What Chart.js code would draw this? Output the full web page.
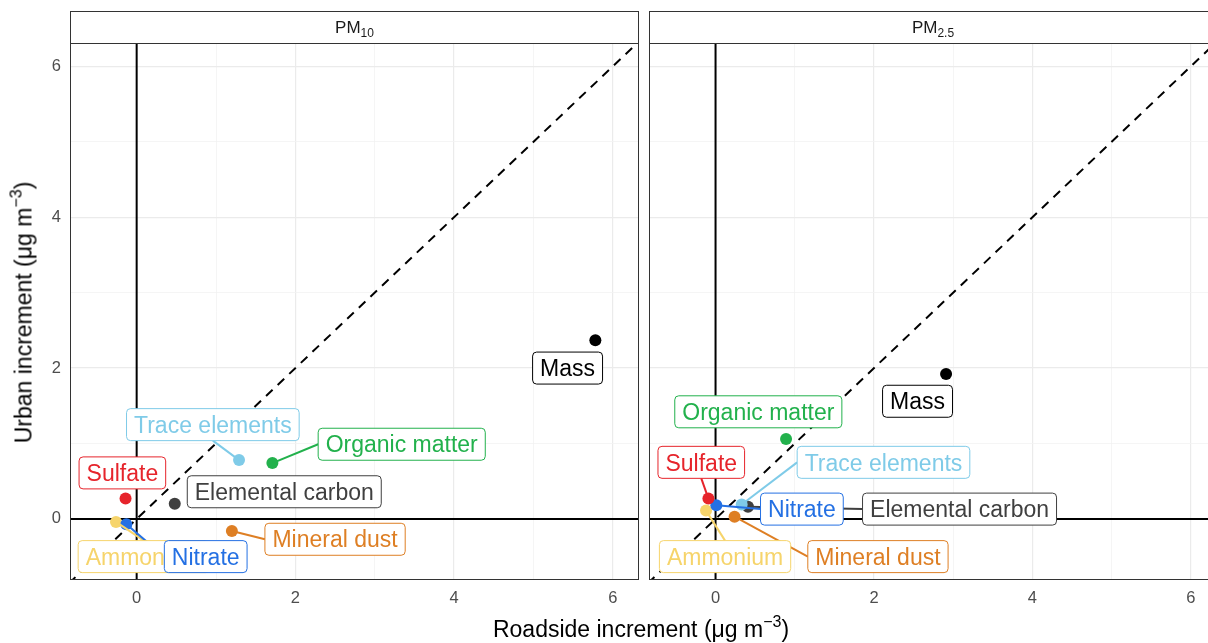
<!DOCTYPE html>
<html>
<head>
<meta charset="utf-8">
<script src="https://cdn.jsdelivr.net/npm/chart.js@4/dist/chart.umd.min.js"></script>
<style>
  html, body { margin: 0; padding: 0; background: #fff; overflow: hidden; }
  body { width: 1208px; height: 643px; position: relative; }
  canvas { position: absolute; top: 0; }
  #pm10 { left: 0; }
  #pm25 { left: 640px; }
  .title {
    position: absolute; font: 23px "Liberation Sans", Arial, sans-serif; color: #000;
    line-height: 23px; white-space: nowrap; text-align: center; width: 600px;
  }
  #xtitle { left: 341px; top: 618px; }
  #ytitle { left: -275px; top: 299.5px; transform: rotate(-90deg); }
  .sup { font-size: 16px; position: relative; top: -10px; }
</style>
</head>
<body>
<canvas id="pm10" width="645" height="643"></canvas>
<canvas id="pm25" width="600" height="643"></canvas>
<div class="title" id="ytitle">Urban increment (μg m<span class="sup">−3</span>)</div>
<div class="title" id="xtitle">Roadside increment (μg m<span class="sup">−3</span>)</div>
<script>
const components = ["Ammonium", "Elemental carbon", "Mass", "Mineral dust", "Nitrate", "Organic matter", "Sulfate", "Trace elements"];
const componentColours = ["#f6d46b", "#3f3f3f", "#000000", "#de7f24", "#2470e3", "#22b14c", "#e6242b", "#7fcbe8"];

const pm10Roadside = [-0.26, 0.48, 5.78, 1.20, -0.13, 1.71, -0.14, 1.29];
const pm10Urban = [-0.04, 0.20, 2.37, -0.16, -0.07, 0.74, 0.27, 0.78];
const pm25Roadside = [-0.12, 0.41, 2.91, 0.24, 0.01, 0.89, -0.09, 0.33];
const pm25Urban = [0.11, 0.16, 1.92, 0.03, 0.18, 1.06, 0.27, 0.19];

// where the repelled labels ended up (data units)
const pm10LabelX = [0.09, 1.86, 5.43, 2.50, 0.87, 3.34, -0.18, 0.96];
const pm10LabelY = [-0.50, 0.36, 2.00, -0.27, -0.50, 0.99, 0.61, 1.25];
const pm25LabelX = [0.12, 3.08, 2.55, 2.05, 1.09, 0.54, -0.18, 2.12];
const pm25LabelY = [-0.50, 0.13, 1.56, -0.50, 0.13, 1.42, 0.75, 0.75];

const tickLabels = [0, 2, 4, 6];
const gridSteps = [0, 1, 2, 3, 4, 5, 6];
const identityLine = [-1, 7];

const FONT = '"Liberation Sans", Arial, sans-serif';
const X_MIN = -0.84, X_MAX = 6.33;
const Y_MIN = -0.81, Y_MAX = 6.31;

const facetPlugin = {
  id: "facet",
  afterDatasetsDraw(chart, args, opts) {
    const { ctx, chartArea: a, scales: { x, y } } = chart;
    ctx.save();
    ctx.font = "23px " + FONT;
    const boxes = components.map((name, i) => {
      const w = ctx.measureText(name).width + 15;
      const cx = x.getPixelForValue(opts.labelX[i]);
      const cy = y.getPixelForValue(opts.labelY[i]);
      return { l: cx - w / 2, r: cx + w / 2, t: cy - 16, b: cy + 16, cx, cy };
    });

    // segments first, like ggrepel
    ctx.lineWidth = 2;
    boxes.forEach((b, i) => {
      const px = x.getPixelForValue(opts.xs[i]);
      const py = y.getPixelForValue(opts.ys[i]);
      const dx = Math.max(b.l - px, 0, px - b.r);
      const dy = Math.max(b.t - py, 0, py - b.b);
      if (Math.hypot(dx, dy) < 14) return;
      const anchors = [[b.l, b.cy], [b.r, b.cy], [b.cx, b.t], [b.cx, b.b]];
      let best = anchors[0];
      anchors.forEach(p => {
        if (Math.hypot(p[0] - px, p[1] - py) < Math.hypot(best[0] - px, best[1] - py)) best = p;
      });
      ctx.strokeStyle = componentColours[i];
      ctx.beginPath();
      ctx.moveTo(px, py);
      ctx.lineTo(best[0], best[1]);
      ctx.stroke();
    });

    ctx.lineWidth = 1;
    ctx.textAlign = "center";
    ctx.textBaseline = "alphabetic";
    boxes.forEach((b, i) => {
      ctx.beginPath();
      ctx.roundRect(b.l, b.t, b.r - b.l, b.b - b.t, 4);
      ctx.fillStyle = "#fff";
      ctx.fill();
      ctx.strokeStyle = componentColours[i];
      ctx.stroke();
      ctx.fillStyle = componentColours[i];
      ctx.fillText(components[i], b.cx, b.cy + 8.2);
    });

    // panel border and strip
    ctx.strokeStyle = "#333";
    ctx.strokeRect(a.left + 0.5, a.top + 0.5, a.right - a.left - 1, a.bottom - a.top - 1);
    ctx.fillStyle = "#fff";
    ctx.fillRect(a.left, 11, a.right - a.left, a.top - 11);
    ctx.strokeRect(a.left + 0.5, 11.5, a.right - a.left - 1, a.top - 11);

    const mid = (a.left + a.right) / 2;
    ctx.font = "17px " + FONT;
    const wMain = ctx.measureText("PM").width;
    ctx.font = "12px " + FONT;
    const wSub = ctx.measureText(opts.stripSub).width;
    const start = mid - (wMain + wSub) / 2;
    ctx.fillStyle = "#1a1a1a";
    ctx.textAlign = "left";
    ctx.font = "17px " + FONT;
    ctx.fillText("PM", start, 33);
    ctx.font = "12px " + FONT;
    ctx.fillText(opts.stripSub, start + wMain, 37);
    ctx.restore();
  }
};

class IncrementPanel {
  constructor(canvas, opts) {
    this.canvas = canvas;
    this.opts = opts;
    this.chart = this.createChart();
  }

  gridOptions() {
    return {
      drawTicks: false,
      color: c => (c.tick && c.tick.value % 2 === 0 ? "#ebebeb" : "#f2f2f2"),
      lineWidth: c => (c.tick && c.tick.value % 2 === 0 ? 1.2 : 0.8)
    };
  }

  createDatasets() {
    const o = this.opts;
    const refLine = {
      showLine: true, pointRadius: 0, borderColor: "#000", borderWidth: 2, clip: 0
    };
    return [
      {
        data: o.xs.map((v, i) => ({ x: v, y: o.ys[i] })),
        pointRadius: 6,
        pointHoverRadius: 6,
        borderWidth: 0,
        backgroundColor: componentColours
      },
      Object.assign({ data: identityLine.map(v => ({ x: v, y: v })), borderDash: [9, 7] }, refLine),
      Object.assign({ data: identityLine.map(v => ({ x: 0, y: v })) }, refLine),
      Object.assign({ data: identityLine.map(v => ({ x: v, y: 0 })) }, refLine)
    ];
  }

  createChart() {
    const o = this.opts;
    const tickFont = { family: FONT, size: 16.5 };
    return new Chart(this.canvas.getContext("2d"), {
      type: "scatter",
      data: { datasets: this.createDatasets() },
      plugins: [facetPlugin],
      options: {
        responsive: false,
        animation: false,
        devicePixelRatio: 1,
        layout: { padding: { top: 43, right: o.padRight, left: 0, bottom: 0 } },
        plugins: {
          legend: { display: false },
          tooltip: { enabled: false },
          facet: o
        },
        scales: {
          x: {
            type: "linear", min: X_MIN, max: X_MAX,
            afterBuildTicks: s => { s.ticks = gridSteps.map(v => ({ value: v })); },
            afterFit: s => { s.height = 63; },
            ticks: {
              autoSkip: false, maxRotation: 0, padding: 9, color: "#4d4d4d", font: tickFont,
              callback: v => (tickLabels.includes(v) ? String(v) : "")
            },
            grid: this.gridOptions(),
            border: { display: false }
          },
          y: {
            type: "linear", min: Y_MIN, max: Y_MAX,
            afterBuildTicks: s => { s.ticks = gridSteps.map(v => ({ value: v })); },
            afterFit: s => { s.width = o.yWidth; },
            ticks: {
              display: o.showY, autoSkip: false, padding: 9, color: "#4d4d4d", font: tickFont,
              callback: v => (tickLabels.includes(v) ? String(v) : "")
            },
            grid: this.gridOptions(),
            border: { display: false }
          }
        }
      }
    });
  }
}

new IncrementPanel(document.getElementById("pm10"), {
  xs: pm10Roadside, ys: pm10Urban, labelX: pm10LabelX, labelY: pm10LabelY,
  stripSub: "10", showY: true, yWidth: 70, padRight: 2
});
new IncrementPanel(document.getElementById("pm25"), {
  xs: pm25Roadside, ys: pm25Urban, labelX: pm25LabelX, labelY: pm25LabelY,
  stripSub: "2.5", showY: false, yWidth: 9, padRight: 23
});
</script>
</body>
</html>
